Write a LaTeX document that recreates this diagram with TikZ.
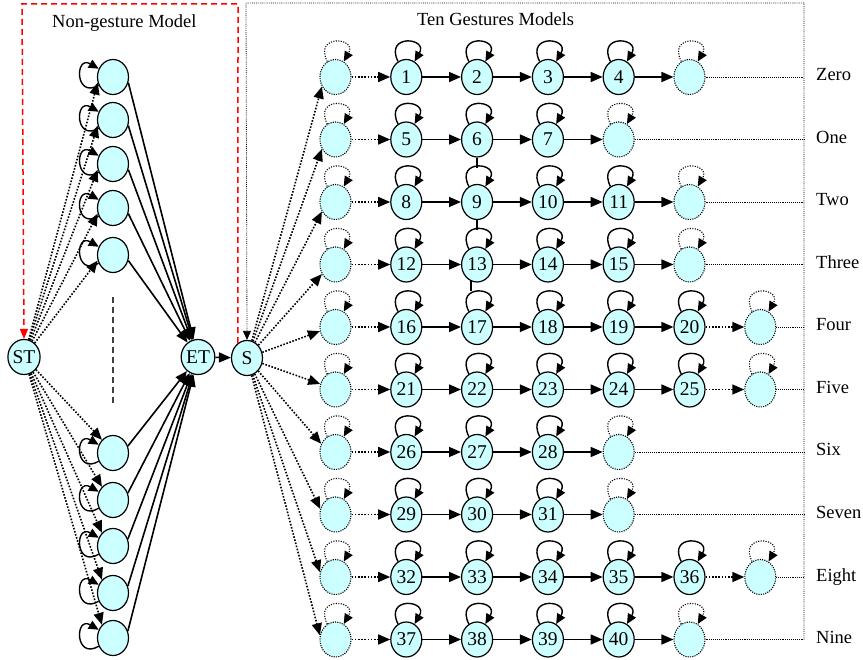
\documentclass[tikz,border=0pt]{standalone}
\usepackage{fontspec}
\setmainfont{Liberation Serif}
\usetikzlibrary{arrows.meta,shapes.geometric}
\definecolor{nodecyan}{HTML}{CCFFFF}
\begin{document}
\begin{tikzpicture}[x=1pt,y=-1pt,
  gnode/.style={ellipse,draw=black,line width=1.2pt,fill=nodecyan,minimum width=31pt,minimum height=35pt,inner sep=0pt,font=\fontsize{19.5}{21}\selectfont},
  dnode/.style={gnode,line width=1.1pt,dash pattern=on 1.1pt off 1.2pt},
  arrS/.style={-{Triangle[length=12pt,width=10pt]},line width=1.6pt},
  arrD/.style={arrS,dash pattern=on 1.6pt off 1.6pt},
  loopS/.style={-{Triangle[length=10pt,width=9pt]},line width=1.4pt},
  loopD/.style={loopS,line width=1.1pt,dash pattern=on 1.1pt off 1.4pt},
  thindot/.style={line width=0.8pt,dash pattern=on 0.8pt off 1.1pt},
  reddash/.style={draw=red,line width=1.5pt,dash pattern=on 6pt off 4pt,-{Triangle[length=10pt,width=8pt]}},
  lbl/.style={font=\fontsize{18.5}{20}\selectfont,inner sep=0pt}
]
\useasboundingbox (0,0) rectangle (863,660);

% titles
\node[lbl,anchor=base west] (t1) at (52,28) {Non-gesture Model};
\node[lbl,anchor=base west] (t2) at (417,26) {Ten Gestures Models};

% main nodes
\node[gnode] (ST) at (24,357) {ST};
\node[gnode] (ET) at (198,357) {ET};
\node[gnode] (S) at (247,358) {S};

% non-gesture model
\foreach \i/\yy/\ain/\aout in {1/77/200/-20,2/120/200/-20,3/164/200/-20,4/208/200/-20,5/255/200/-20,6/453/130/25,7/500/130/25,8/546/130/25,9/593/130/25,10/638/130/25}{
  \node[gnode] (ng\i) at (113,\yy) {};
  \draw[loopS] (ng\i.210) .. controls +(-24,14) and +(-24,-14) .. (ng\i.150);
  \draw[arrD] (ST) -- (ng\i.\ain);
  \draw[arrS] (ng\i.\aout) -- (ET);
}
\draw[line width=1.2pt,black!75,dash pattern=on 6pt off 4pt] (113,297) -- (113,404);

\draw[arrS] (ET) -- (S);

% red feedback
\coordinate (rTR) at (238,4);
\coordinate (rTL) at (22,4);
\draw[reddash] (S.121) -- (rTR) -- (rTL) -- (ST.north);

% black dotted feedback
\coordinate (bTR) at (804,3);
\coordinate (bTL) at (246,3);
\coordinate (bBR) at (804,639.5);
\draw[thindot,-{Triangle[length=9pt,width=8pt]}] (bBR) -- (bTR) -- (bTL) -- (S.north);

% gesture rows
\foreach \r/\f/\m/\ends/\lab/\ang in {0/1/4/arrS/Zero/215,1/5/3/arrS/One/215,2/8/4/arrS/Two/215,3/12/4/arrS/Three/215,4/16/5/arrD/Four/195,5/21/5/arrD/Five/160,6/26/3/arrS/Six/150,7/29/3/arrS/Seven/160,8/32/5/arrD/Eight/163,9/37/4/arrS/Nine/165}{
  \pgfmathsetmacro{\y}{77+62.5*\r}
  \node[dnode] (b\r) at (335.5,\y) {};
  \draw[loopD] (b\r.118) .. controls +(-14,-28) and +(14,-24) .. (b\r.62);
  \draw[arrD] (S) -- (b\r.\ang);
  \foreach \k in {1,...,\m}{
    \pgfmathtruncatemacro{\num}{\f+\k-1}
    \pgfmathsetmacro{\x}{335.5+70.8*\k}
    \node[gnode] (n\num) at (\x,\y) {\num};
    \draw[loopS] (n\num.118) .. controls +(-14,-28) and +(14,-24) .. (n\num.62);
  }
  \draw[arrD] (b\r) -- (n\f);
  \pgfmathtruncatemacro{\mm}{\m-1}
  \foreach \k in {1,...,\mm}{
    \pgfmathtruncatemacro{\pa}{\f+\k-1}
    \pgfmathtruncatemacro{\pb}{\f+\k}
    \draw[arrS] (n\pa) -- (n\pb);
  }
  \pgfmathtruncatemacro{\last}{\f+\m-1}
  \pgfmathsetmacro{\xe}{335.5+70.8*(\m+1)}
  \node[dnode] (e\r) at (\xe,\y) {};
  \draw[loopD] (e\r.118) .. controls +(-14,-28) and +(14,-24) .. (e\r.62);
  \draw[\ends] (n\last) -- (e\r);
  \draw[thindot] (e\r) -- (804,\y);
  \node[lbl,anchor=base west] (lab\r) at (816,\y+4) {\lab};
}

% vertical marks between rows
\draw[line width=1.4pt] (n6.south) -- ++(0,10);
\draw[line width=1.4pt] (n9.south) -- ++(0,10);
\draw[line width=1.4pt] (n13.250) -- ++(0,10);
\end{tikzpicture}
\end{document}
